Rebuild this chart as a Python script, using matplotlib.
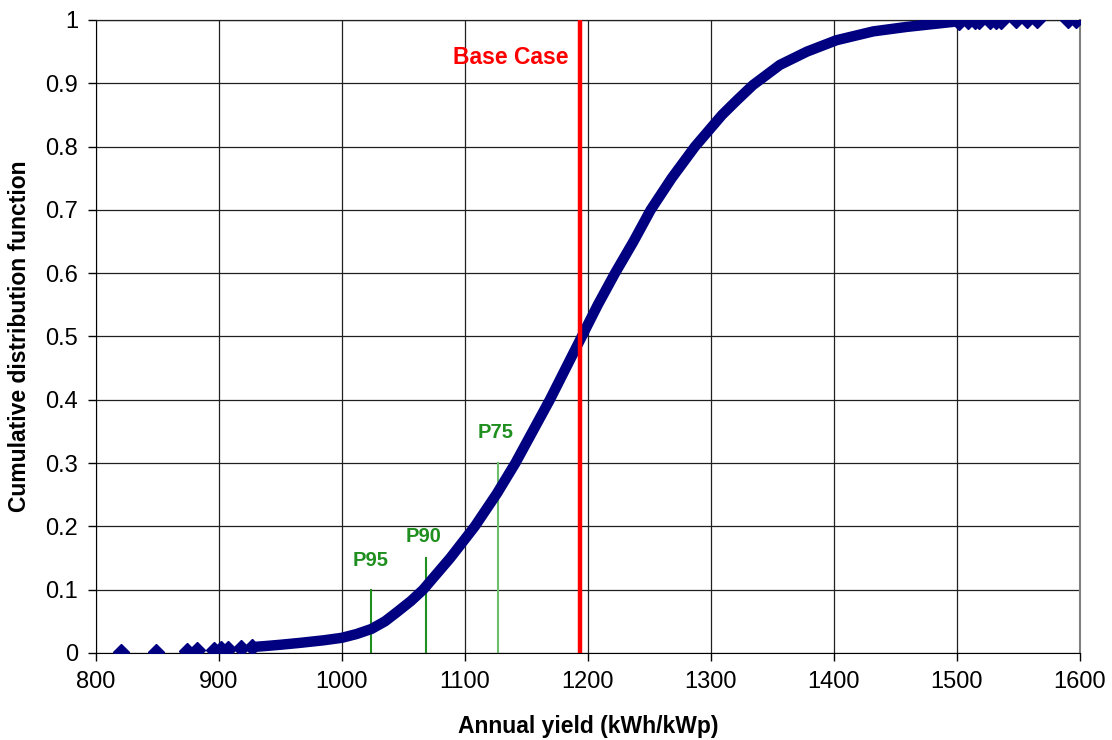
import numpy as np
from matplotlib import pyplot as plt

plt.rcParams['font.family'] = ['Liberation Sans', 'DejaVu Sans']

# Values
# isolated low-yield samples (cdf ~ 0)
lowYield = [820, 849, 874, 882, 896, 902, 907, 918, 927]
lowCdf = [0.001, 0.002, 0.003, 0.004, 0.005, 0.006, 0.007, 0.008, 0.009]

# dense body of the distribution
bodyYield = [931, 938, 950, 966, 985, 1000, 1012, 1024, 1035, 1045, 1056, 1066,
             1077, 1088, 1098, 1108, 1126, 1141, 1155, 1169, 1182, 1195, 1208,
             1222, 1237, 1251, 1268, 1287, 1298, 1309, 1321, 1334, 1356, 1378,
             1402, 1432, 1459, 1497]
bodyCdf = [0.010, 0.011, 0.013, 0.016, 0.020, 0.024, 0.030, 0.038, 0.050, 0.065,
           0.082, 0.100, 0.125, 0.150, 0.175, 0.200, 0.252, 0.300, 0.350, 0.400,
           0.450, 0.500, 0.550, 0.600, 0.650, 0.700, 0.750, 0.800, 0.825, 0.850,
           0.873, 0.897, 0.929, 0.950, 0.968, 0.982, 0.989, 0.997]

# isolated high-yield samples (cdf ~ 1)
highYield = [1502, 1509, 1515, 1518, 1527, 1532, 1536, 1548, 1557, 1565, 1590, 1597]
highCdf = [0.9975, 0.998, 0.998, 0.9985, 0.9988, 0.999, 0.999, 0.9993, 0.9995,
           0.9997, 0.9999, 1.0]

baseCase = 1193.5
pLabels = ['P95', 'P90', 'P75']
pYield = [1024, 1068.6, 1126.8]
pHeight = [0.1, 0.15, 0.3]
pColors = ['#1f8f1f', '#1f8f1f', '#6cc06c']

navy = '#000080'
fig = plt.figure(figsize=(11.12, 7.4), dpi=100)
ax = fig.add_axes([0.0863, 0.1176, 0.8849, 0.8554])

# percentile markers
for i in range(len(pLabels)):
    ax.plot([pYield[i], pYield[i]], [0, pHeight[i]], color=pColors[i], lw=1.5, zorder=2)
ax.text(pYield[0] - 1, 0.146, pLabels[0], color='#1f8f1f', fontsize=14.5,
        fontweight='bold', ha='center', va='center')
ax.text(pYield[1] - 2, 0.184, pLabels[1], color='#1f8f1f', fontsize=14.5,
        fontweight='bold', ha='center', va='center')
ax.text(pYield[2] - 2, 0.349, pLabels[2], color='#1f8f1f', fontsize=14.5,
        fontweight='bold', ha='center', va='center')

# cdf points
ax.plot(bodyYield, bodyCdf, color=navy, lw=7.5, solid_capstyle='round',
        solid_joinstyle='round', zorder=3)
ax.plot(lowYield, lowCdf, 'D', color=navy, markersize=8, zorder=3)
ax.plot(highYield, highCdf, 'D', color=navy, markersize=8, zorder=3)

# base case
ax.plot([baseCase, baseCase], [0, 1], color='#ff0000', lw=3.2, zorder=4)
ax.text(1184, 0.94, 'Base Case', color='#ff0000', fontsize=16.5, fontweight='bold',
        ha='right', va='center')

ax.set_xlim(800, 1600)
ax.set_ylim(0, 1)
ax.set_xticks(np.arange(800, 1601, 100))
ax.set_yticks(np.arange(0, 1.01, 0.1))
ax.set_yticklabels(['0', '0.1', '0.2', '0.3', '0.4', '0.5', '0.6', '0.7', '0.8', '0.9', '1'])
ax.grid(True, color='#202020', lw=0.9)
ax.set_axisbelow(True)
ax.tick_params(direction='out', length=6, width=1, labelsize=17, pad=7)
ax.spines['right'].set_color('#808080')
ax.spines['right'].set_linewidth(1.5)
ax.spines['top'].set_color('#202020')
ax.spines['top'].set_linewidth(0.9)
ax.set_xlabel('Annual yield (kWh/kWp)', fontsize=16.5, fontweight='bold', labelpad=16)
ax.set_ylabel('Cumulative distribution function', fontsize=16.5, fontweight='bold', labelpad=10)

plt.savefig('out.png', dpi=100)
